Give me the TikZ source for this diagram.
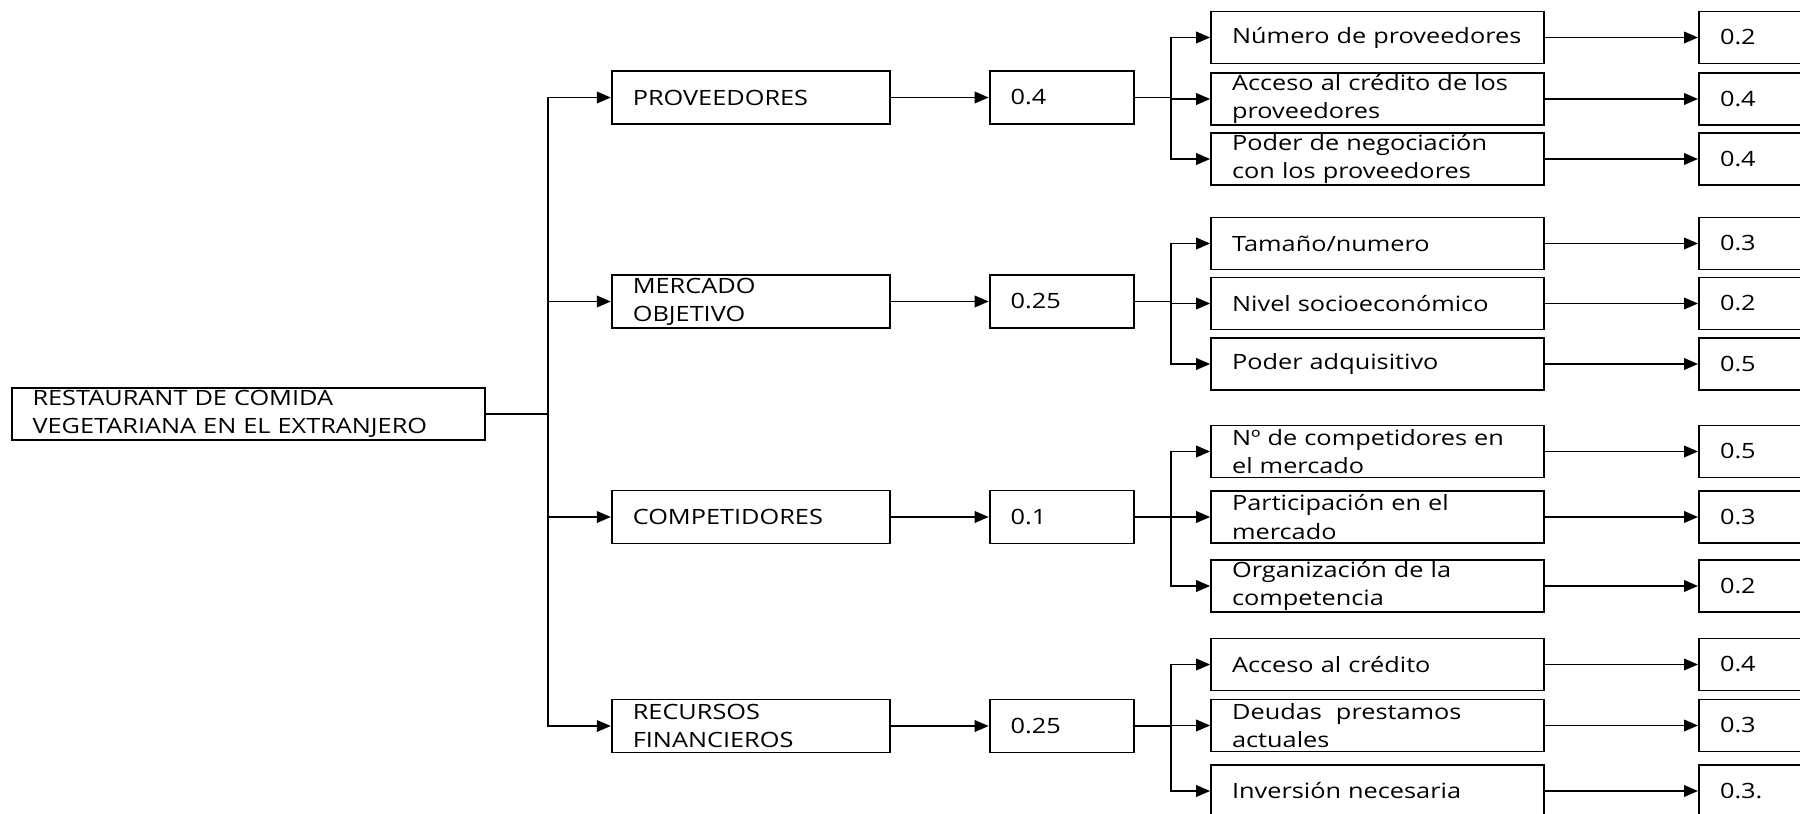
\documentclass[tikz,border=0pt]{standalone}
\usepackage{fontspec}
\setmainfont{Open Sans}[FakeStretch=1.2]
\usetikzlibrary{arrows.meta,positioning}
\tikzset{
  box/.style={rectangle,draw,line width=1.1pt,align=left,inner ysep=0pt,
    inner xsep=0.42cm,font=\fontsize{12}{16}\selectfont},
  rootbox/.style={box,minimum height=1.04cm,text width=8.64cm},
  critbox/.style={box,minimum height=1.06cm,text width=4.72cm},
  wbox/.style={box,minimum height=1.06cm,text width=2.05cm},
  subbox/.style={box,minimum height=1.04cm,text width=5.82cm},
  subwbox/.style={box,minimum height=1.04cm,text width=3.16cm},
  link/.style={line width=1.1pt},
  arr/.style={-{Triangle[length=2.8mm,width=2.3mm]},line width=1.1pt}
}

\begin{document}
\begin{tikzpicture}[x=0.02cm,y=-0.02cm]
\useasboundingbox (0,0) rectangle (1800,814);
% ---------------- root ----------------
\node[rootbox] (root) at (248.5,414)
  {RESTAURANT DE COMIDA\\VEGETARIANA EN EL EXTRANJERO};
% ---------------- criteria and their weights ----------------
\node[critbox] (prov) at (750.8,97.5) {PROVEEDORES};
\node[critbox] (merc) at (750.8,301.5) {MERCADO\\OBJETIVO};
\node[critbox] (comp) at (750.8,517) {COMPETIDORES};
\node[critbox] (recu) at (750.8,726) {RECURSOS\\FINANCIEROS};
\node[wbox] (wprov) at (1061.9,97.5) {0.4};
\node[wbox] (wmerc) at (1061.9,301.5) {0.25};
\node[wbox] (wcomp) at (1061.9,517) {0.1};
\node[wbox] (wrecu) at (1061.9,726) {0.25};
% ---------------- sub-criteria ----------------
\node[subbox] (prov1) at (1377.6,37.5) {Número de proveedores};
\node[subbox] (prov2) at (1377.6,99) {Acceso al crédito de los\\proveedores};
\node[subbox] (prov3) at (1377.6,159) {Poder de negociación\\con los proveedores};
\node[subbox] (merc1) at (1377.6,243.5) {Tamaño/numero};
\node[subbox] (merc2) at (1377.6,303.5) {Nivel socioeconómico};
\node[subbox] (merc3) at (1377.6,364) {Poder adquisitivo};
\node[subbox] (comp1) at (1377.6,451.5) {Nº de competidores en\\el mercado};
\node[subbox] (comp2) at (1377.6,517) {Participación en el\\mercado};
\node[subbox] (comp3) at (1377.6,586) {Organización de la\\competencia};
\node[subbox] (recu1) at (1377.6,664.5) {Acceso al crédito};
\node[subbox] (recu2) at (1377.6,725.5) {Deudas~ prestamos\\actuales};
\node[subbox] (recu3) at (1377.6,791) {Inversión necesaria};
% ---------------- sub-criteria weights (cut by the page edge) ----------------
\node[subwbox] (wprov1) at (1799,37.5) {0.2};
\node[subwbox] (wprov2) at (1799,99) {0.4};
\node[subwbox] (wprov3) at (1799,159) {0.4};
\node[subwbox] (wmerc1) at (1799,243.5) {0.3};
\node[subwbox] (wmerc2) at (1799,303.5) {0.2};
\node[subwbox] (wmerc3) at (1799,364) {0.5};
\node[subwbox] (wcomp1) at (1799,451.5) {0.5};
\node[subwbox] (wcomp2) at (1799,517) {0.3};
\node[subwbox] (wcomp3) at (1799,586) {0.2};
\node[subwbox] (wrecu1) at (1799,664.5) {0.4};
\node[subwbox] (wrecu2) at (1799,725.5) {0.3};
\node[subwbox] (wrecu3) at (1799,791) {0.3.};
% ---------------- connectors ----------------
\coordinate (trunk) at (547.6,414);
\draw[link] (root.east) -- (trunk);
\foreach \n/\y in {prov/97.5,merc/301.5,comp/517,recu/726}{
  \draw[arr] (trunk) |- (\n.west);
  \draw[arr] (\n.east) -- (w\n.west);
  \coordinate (j\n) at (1171,\y);
  \draw[link] (w\n.east) -- (j\n);
  \foreach \i in {1,2,3}{
    \draw[arr] (j\n) |- (\n\i.west);
    \draw[arr] (\n\i.east) -- (w\n\i.west);
  }
}
\end{tikzpicture}
\end{document}
